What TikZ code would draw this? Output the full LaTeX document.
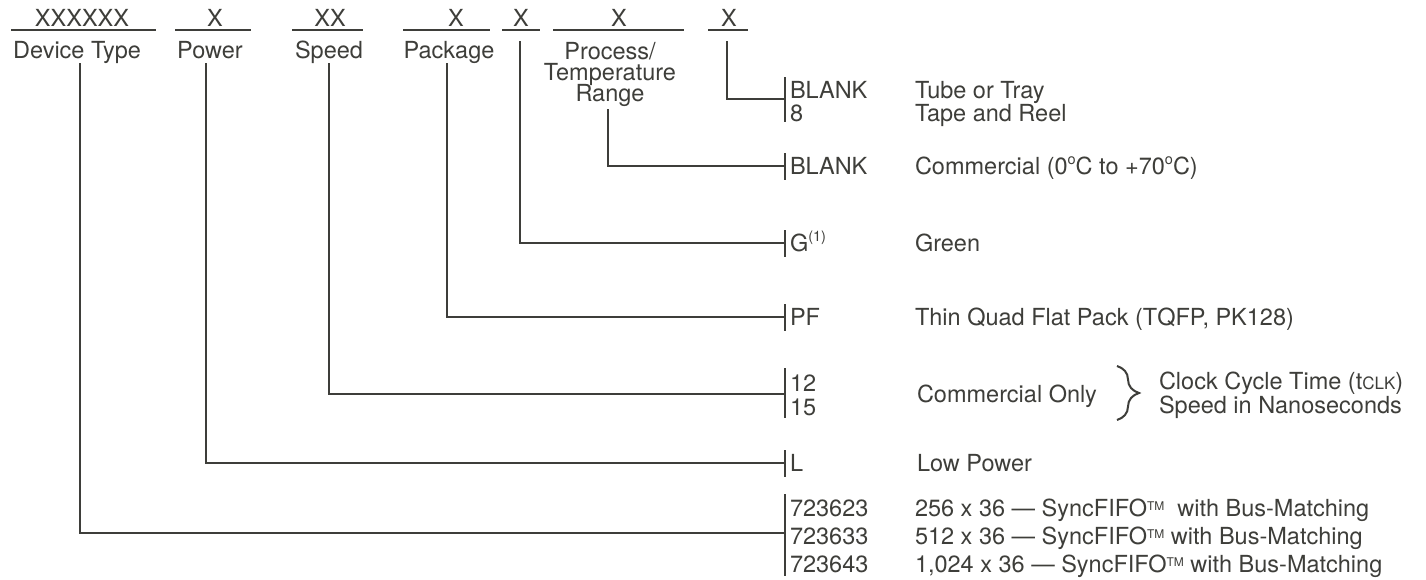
\documentclass[tikz,border=0pt]{standalone}
\usepackage{fontspec}
\setmainfont{TeX Gyre Heros}
\usetikzlibrary{decorations.pathreplacing}
\definecolor{ink}{RGB}{62,62,58}
\newcommand{\smallsup}[1]{\raisebox{0.42em}{\fontsize{14.5}{14.5}\selectfont #1}}
\newcommand{\tmark}{\raisebox{0.25em}{\fontsize{12}{12}\selectfont TM}}
\begin{document}
\begin{tikzpicture}[x=1pt,y=-1pt,
  txt/.style={inner sep=0pt, outer sep=0pt, text=ink, font=\fontsize{23.5}{28}\selectfont},
  hdr/.style={txt, anchor=base},
  lft/.style={txt, anchor=base west},
  conn/.style={draw=ink, line width=2.4pt},
  uline/.style={draw=ink, line width=2.4pt},
  tickline/.style={draw=ink, line width=2.4pt}]
\useasboundingbox[fill=white] (0,0) rectangle (1426,579);

% header fields
\node[hdr] (hDev) at (82,26) {XXXXXX};
\node[hdr] (hPow) at (215,26) {X};
\node[hdr] (hSpd) at (330,26) {XX};
\node[hdr] (hPkg) at (456,26) {X};
\node[hdr] (hGrn) at (521,26) {X};
\node[hdr] (hPrc) at (619,26) {X};
\node[hdr] (hTap) at (729,26) {X};
\draw[uline] (11,30) -- (156,30);
\draw[uline] (175,30) -- (251,30);
\draw[uline] (292,30) -- (363,30);
\draw[uline] (403,30) -- (490,30);
\draw[uline] (502,30) -- (540,30);
\draw[uline] (553,30) -- (684,30);
\draw[uline] (708,30) -- (748,30);

% labels
\node[hdr] (lDev) at (77,58) {Device Type};
\node[hdr] (lPow) at (210,58) {Power};
\node[hdr] (lSpd) at (329,58) {Speed};
\node[hdr] (lPkg) at (449,58) {Package};
\node[hdr] (lPrc1) at (610,59) {Process/};
\node[hdr] (lPrc2) at (610,80) {Temperature};
\node[hdr] (lPrc3) at (610,101) {Range};

% connector start points
\coordinate (sDev) at (80,63);
\coordinate (sPow) at (206,63);
\coordinate (sSpd) at (329,63);
\coordinate (sPkg) at (447,63);
\coordinate (sGrn) at (520,41);
\coordinate (sPrc) at (608,109);
\coordinate (sTap) at (727,41);

% connector end points (on the tick column)
\coordinate (eTap) at (785,99);
\coordinate (ePrc) at (785,166);
\coordinate (eGrn) at (785,243);
\coordinate (ePkg) at (785,317);
\coordinate (eSpd) at (785,394);
\coordinate (ePow) at (785,463);
\coordinate (eDev) at (785,533);

\draw[conn] (sTap) |- (eTap);
\draw[conn] (sPrc) |- (ePrc);
\draw[conn] (sGrn) |- (eGrn);
\draw[conn] (sPkg) |- (ePkg);
\draw[conn] (sSpd) |- (eSpd);
\draw[conn] (sPow) |- (ePow);
\draw[conn] (sDev) |- (eDev);

% ticks
\draw[tickline] (785,77) -- (785,122);
\draw[tickline] (785,153) -- (785,180);
\draw[tickline] (785,230) -- (785,257);
\draw[tickline] (785,304) -- (785,331);
\draw[tickline] (785,368) -- (785,418);
\draw[tickline] (785,450) -- (785,477);
\draw[tickline] (785,494) -- (785,576);

% codes
\node[lft] (cTap1) at (790,98) {BLANK};
\node[lft] (cTap2) at (790,121) {8};
\node[lft] (cPrc) at (790,174) {BLANK};
\node[lft] (cGrn) at (790,251) {G\smallsup{(1)}};
\node[lft] (cPkg) at (790,325) {PF};
\node[lft] (cSpd1) at (790,391) {12};
\node[lft] (cSpd2) at (790,415) {15};
\node[lft] (cPow) at (790,471) {L};
\node[lft] (cDev1) at (790,516) {723623};
\node[lft] (cDev2) at (790,544) {723633};
\node[lft] (cDev3) at (790,572) {723643};

% descriptions
\node[lft] (dTap1) at (915,98) {Tube or Tray};
\node[lft] (dTap2) at (915,121) {Tape and Reel};
\node[lft] (dPrc) at (915,174) {Commercial (0\smallsup{o}C to +70\smallsup{o}C)};
\node[lft] (dGrn) at (915,251) {Green};
\node[lft] (dPkg) at (915,325) {Thin Quad Flat Pack (TQFP, PK128)};
\node[lft] (dSpd) at (917,402) {Commercial Only};
\node[lft] (dPow) at (917,471) {Low Power};
\node[lft] (dDev1) at (915,516) {256 x 36 — SyncFIFO\tmark\ \ with Bus-Matching};
\node[lft] (dDev2) at (915,544) {512 x 36 — SyncFIFO\tmark\ with Bus-Matching};
\node[lft] (dDev3) at (915,572) {1,024 x 36 — SyncFIFO\tmark\ with Bus-Matching};

% brace and speed note
\draw[draw=ink, line width=2pt, decorate, decoration={brace, amplitude=22pt}]
  (1117,366) -- (1117,420);
\node[lft] (nClk) at (1159,389) {Clock Cycle Time (t{\fontsize{17}{17}\selectfont CLK})};
\node[lft] (nSpd) at (1159,413) {Speed in Nanoseconds};
\end{tikzpicture}
\end{document}
